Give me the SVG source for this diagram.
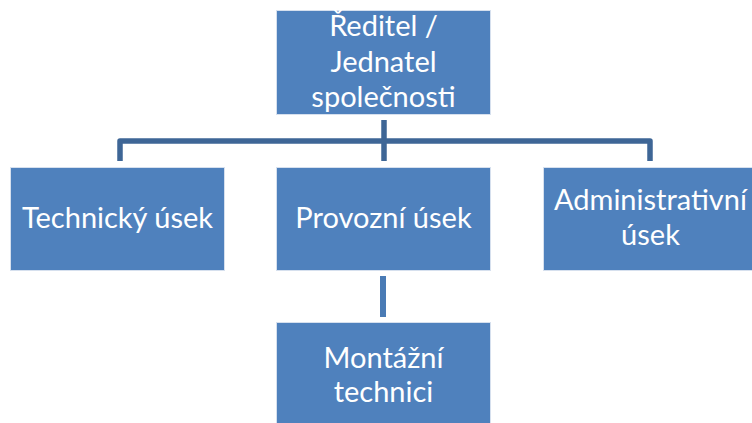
<svg xmlns="http://www.w3.org/2000/svg" width="752" height="423" viewBox="0 0 752 423">
<style>
.box{fill:#4F81BD;stroke:#D6E0EE;stroke-width:1}
.t{font-family:Lato,"Open Sans","Liberation Sans",sans-serif;font-size:29px;fill:#FFFFFF;text-anchor:middle}
.c{fill:none;stroke:#3E6696;stroke-width:5.5;stroke-linejoin:round}
.c2{fill:none;stroke:#4A7BB5;stroke-width:6}
</style>
<rect width="752" height="423" fill="#FFFFFF"/>
<g id="connectors">
<path class="c" d="M384 120 V161"/>
<path class="c" d="M120 161 V141 H650 V161"/>
<path class="c2" d="M383 276 V317"/>
</g>
<g id="reditel">
<rect class="box" x="276.5" y="10.5" width="214" height="104"/>
<text class="t" x="383.5" y="36">Ředitel /</text>
<text class="t" x="383.5" y="72">Jednatel</text>
<text class="t" x="383.5" y="107">společnosti</text>
</g>
<g id="technicky">
<rect class="box" x="10.5" y="167.5" width="214" height="103"/>
<text class="t" x="117.5" y="228">Technický úsek</text>
</g>
<g id="provozni">
<rect class="box" x="276.5" y="167.5" width="214" height="103"/>
<text class="t" x="383.5" y="228">Provozní úsek</text>
</g>
<g id="administrativni">
<rect class="box" x="543.5" y="167.5" width="214" height="103"/>
<text class="t" x="650.5" y="210">Administrativní</text>
<text class="t" x="650.5" y="245">úsek</text>
</g>
<g id="montazni">
<rect class="box" x="276.5" y="322.5" width="214" height="104"/>
<text class="t" x="383.5" y="368">Montážní</text>
<text class="t" x="383.5" y="402">technici</text>
</g>
</svg>
